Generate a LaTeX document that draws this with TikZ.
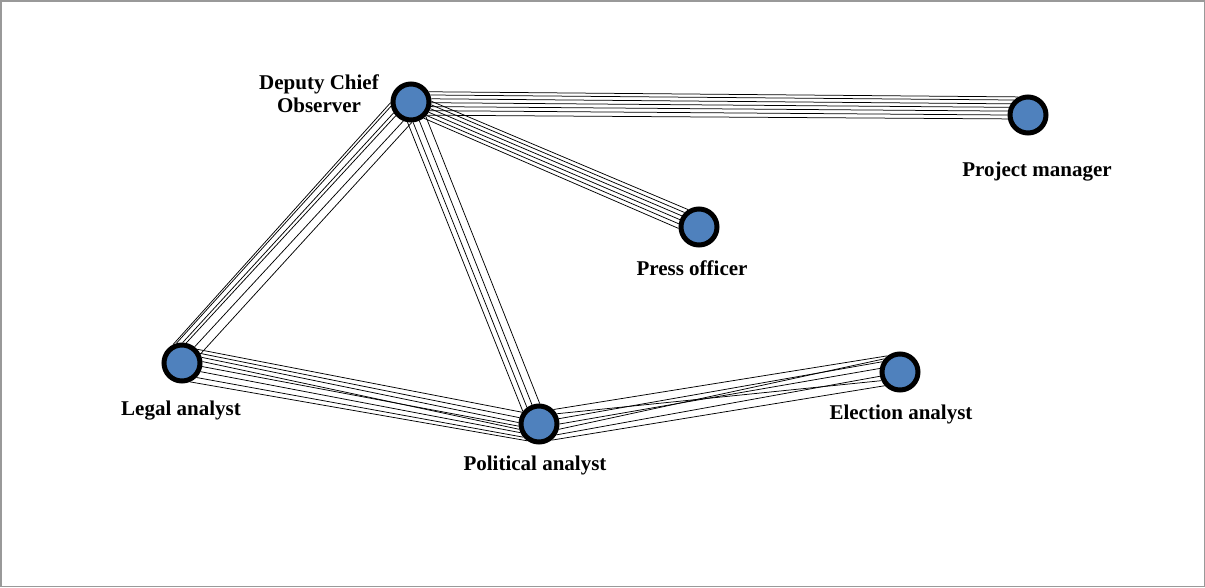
\documentclass[tikz,border=0pt]{standalone}
\usepackage{fontspec}
\setmainfont{Liberation Serif}
\definecolor{nodeblue}{RGB}{79,129,189}
\begin{document}
\begin{tikzpicture}[
    x=1pt, y=-1pt,
    vertex/.style={circle, draw, line width=5pt, fill=nodeblue, minimum size=36pt, inner sep=0pt},
    edge/.style={line width=0.75pt},
    vlabel/.style={font=\bfseries\fontsize{21}{23}\selectfont, align=center, inner sep=0pt}
]

\useasboundingbox (0,0) rectangle (1205,587);
\draw[black!40, line width=1.5pt] (0.75,0.75) rectangle (1204.25,586.25);

\node[vertex] (dco) at (411,102) {};
\node[vertex] (pm) at (1028,115) {};
\node[vertex] (po) at (699,227) {};
\node[vertex] (la) at (182,363) {};
\node[vertex] (pa) at (539,424) {};
\node[vertex] (ea) at (900,372) {};

\node[vlabel] (dco-l) at (319,94) {Deputy Chief\\Observer};
\node[vlabel] (pm-l) at (1037,172) {Project manager};
\node[vlabel] (po-l) at (692,268) {Press officer};
\node[vlabel] (la-l) at (181,411) {Legal analyst};
\node[vlabel] (pa-l) at (535,465) {Political analyst};
\node[vlabel] (ea-l) at (901,414) {Election analyst};

% bundles of ties, one line per tie
\foreach \s/\t in {30/118, 20/133, 9/147, -2/158, -13/169, -25/180, -40/191}
    \draw[edge] (dco.\s) -- (pm.\t);
\foreach \s/\t in {2/122, -8/135, -19/147, -30/159, -41/171, -52/184}
    \draw[edge] (dco.\s) -- (po.\t);
\foreach \s/\t in {-178/116, -168/106, -148/88, -138/78, -112/52, -88/26}
    \draw[edge] (dco.\s) -- (la.\t);
\foreach \s/\t in {-100/142, -84/126, -66/110, -44/88}
    \draw[edge] (dco.\s) -- (pa.\t);
\foreach \s/\t in {42/145, 28/162, 16/176, 4/195, -10/186, -25/205, -45/220, -67/235}
    \draw[edge] (la.\s) -- (pa.\t);
\foreach \s/\t in {45/128, 30/205, 15/150, 0/170, -15/140, -32/192, -52/222}
    \draw[edge] (pa.\s) -- (ea.\t);

\end{tikzpicture}
\end{document}
